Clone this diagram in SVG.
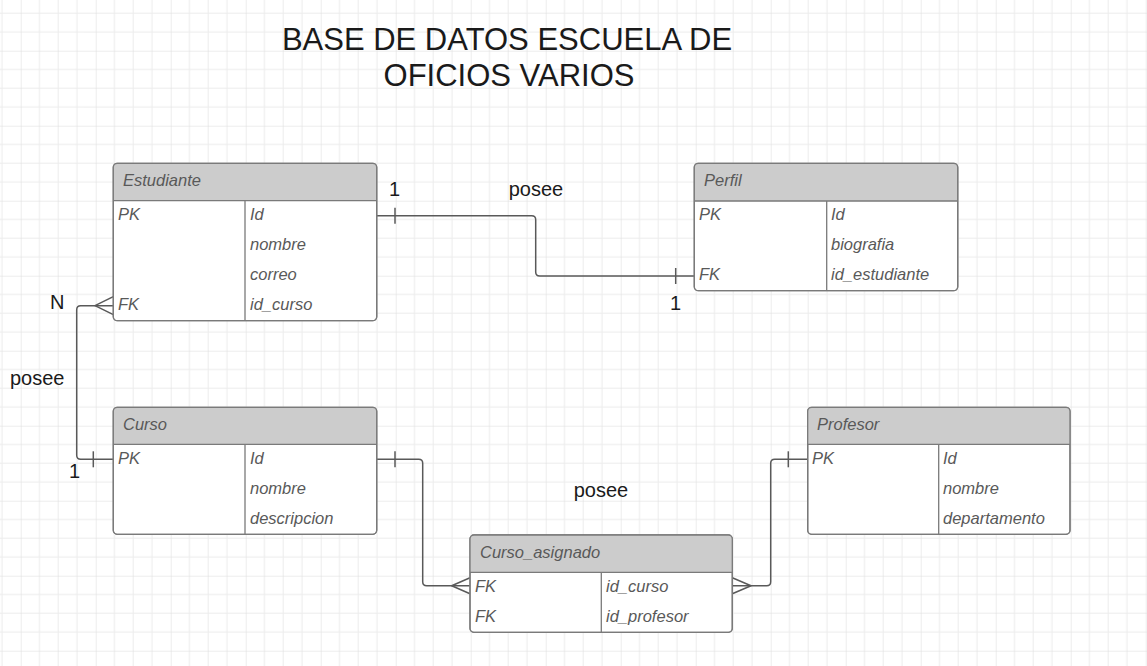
<svg xmlns="http://www.w3.org/2000/svg" width="1147" height="666" viewBox="0 0 1147 666">
<style>
.tbl{fill:#ffffff;stroke:#7a7a7a;stroke-width:1.3}
.hdr{fill:#cccccc;stroke:none}
.sep{stroke:#7a7a7a;stroke-width:1.3;fill:none}
.t{font-family:"Liberation Sans",Arial,sans-serif;font-style:italic;font-size:16.5px;fill:#595959}
.lbl{font-family:"Liberation Sans",Arial,sans-serif;font-size:20px;fill:#1a1a1a}
.title{font-family:"Liberation Sans",Arial,sans-serif;font-size:31px;fill:#1a1a1a;text-anchor:middle}
.con{fill:none;stroke:#595959;stroke-width:1.5;stroke-linejoin:round}
</style>
<defs>
<pattern id="grid" patternUnits="userSpaceOnUse" x="20.7" y="50.7" width="75" height="75">
<rect x="0" y="0" width="75" height="75" fill="#ffffff"/>
<rect x="18.25" y="0" width="1" height="75" fill="#ececec"/>
<rect x="37" y="0" width="1" height="75" fill="#ececec"/>
<rect x="55.75" y="0" width="1" height="75" fill="#ececec"/>
<rect x="0" y="18.25" width="75" height="1" fill="#ececec"/>
<rect x="0" y="37" width="75" height="1" fill="#ececec"/>
<rect x="0" y="55.75" width="75" height="1" fill="#ececec"/>
<rect x="-0.5" y="0" width="1" height="75" fill="#dcdcdc"/>
<rect x="0" y="-0.5" width="75" height="1" fill="#dcdcdc"/>
</pattern>
</defs>
<rect x="0" y="0" width="1147" height="666" fill="url(#grid)"/>

<g id="title">
<text class="title" x="507" y="50">BASE DE DATOS ESCUELA DE</text>
<text class="title" x="509" y="86">OFICIOS VARIOS</text>
</g>

<g id="connectors">
<path class="con" d="M376.7,215.7 H531.7 Q535.7,215.7 535.7,219.7 V272 Q535.7,276 539.7,276 H694.3"/>
<path class="con" d="M395,207.7 V223.7"/>
<path class="con" d="M675.7,268 V284"/>
<path class="con" d="M113.3,305.7 H80.7 Q76.7,305.7 76.7,309.7 V455.3 Q76.7,459.3 80.7,459.3 H113.3"/>
<path class="con" d="M113.3,296.7 L95,305.7 L113.3,314.7"/>
<path class="con" d="M93.3,451.3 V467.3"/>
<path class="con" d="M376.7,459.3 H418.7 Q422.7,459.3 422.7,463.3 V581.7 Q422.7,585.7 426.7,585.7 H470"/>
<path class="con" d="M395,451.3 V467.3"/>
<path class="con" d="M470,577.7 L451.7,585.7 L470,593.7"/>
<path class="con" d="M807.7,459.3 H774.7 Q770.7,459.3 770.7,463.3 V581.7 Q770.7,585.7 766.7,585.7 H732.3"/>
<path class="con" d="M788.3,451.3 V467.3"/>
<path class="con" d="M732.3,577.7 L751,585.7 L732.3,593.7"/>
</g>

<g id="labels">
<text class="lbl" x="389" y="196">1</text>
<text class="lbl" x="536" y="196" text-anchor="middle">posee</text>
<text class="lbl" x="670" y="310">1</text>
<text class="lbl" x="50" y="309">N</text>
<text class="lbl" x="10" y="385">posee</text>
<text class="lbl" x="69" y="478">1</text>
<text class="lbl" x="601" y="497" text-anchor="middle">posee</text>
</g>

<g id="estudiante">
<rect class="tbl" x="113.3" y="163.3" width="263.4" height="157.4" rx="4"/>
<path class="hdr" d="M117.3,163.3 H372.7 Q376.7,163.3 376.7,167.3 V200.7 H113.3 V167.3 Q113.3,163.3 117.3,163.3 Z"/>
<rect x="113.3" y="163.3" width="263.4" height="157.4" rx="4" fill="none" stroke="#7a7a7a" stroke-width="1.3"/>
<path class="sep" d="M113.3,200.7 H376.7 M245,200.7 V320.7"/>
<text class="t" x="123" y="186">Estudiante</text>
<text class="t" x="118" y="219.5">PK</text>
<text class="t" x="250" y="219.5">Id</text>
<text class="t" x="250" y="249.5">nombre</text>
<text class="t" x="250" y="279.5">correo</text>
<text class="t" x="118" y="309.5">FK</text>
<text class="t" x="250" y="309.5">id_curso</text>
</g>

<g id="perfil">
<rect class="tbl" x="694.3" y="163.3" width="263.4" height="127.4" rx="4"/>
<path class="hdr" d="M698.3,163.3 H953.7 Q957.7,163.3 957.7,167.3 V201 H694.3 V167.3 Q694.3,163.3 698.3,163.3 Z"/>
<rect x="694.3" y="163.3" width="263.4" height="127.4" rx="4" fill="none" stroke="#7a7a7a" stroke-width="1.3"/>
<path class="sep" d="M694.3,201 H957.7 M826.7,201 V290.7"/>
<text class="t" x="704" y="186">Perfil</text>
<text class="t" x="699" y="219.5">PK</text>
<text class="t" x="831" y="219.5">Id</text>
<text class="t" x="831" y="249.5">biografia</text>
<text class="t" x="699" y="279.5">FK</text>
<text class="t" x="831" y="279.5">id_estudiante</text>
</g>

<g id="curso">
<rect class="tbl" x="113.3" y="407.3" width="263.4" height="127" rx="4"/>
<path class="hdr" d="M117.3,407.3 H372.7 Q376.7,407.3 376.7,411.3 V444.3 H113.3 V411.3 Q113.3,407.3 117.3,407.3 Z"/>
<rect x="113.3" y="407.3" width="263.4" height="127" rx="4" fill="none" stroke="#7a7a7a" stroke-width="1.3"/>
<path class="sep" d="M113.3,444.3 H376.7 M245,444.3 V534.3"/>
<text class="t" x="123" y="430">Curso</text>
<text class="t" x="118" y="463.5">PK</text>
<text class="t" x="250" y="463.5">Id</text>
<text class="t" x="250" y="493.5">nombre</text>
<text class="t" x="250" y="523.5">descripcion</text>
</g>

<g id="profesor">
<rect class="tbl" x="807.7" y="407.3" width="262.3" height="127" rx="4"/>
<path class="hdr" d="M811.7,407.3 H1066 Q1070,407.3 1070,411.3 V444.3 H807.7 V411.3 Q807.7,407.3 811.7,407.3 Z"/>
<rect x="807.7" y="407.3" width="262.3" height="127" rx="4" fill="none" stroke="#7a7a7a" stroke-width="1.3"/>
<path class="sep" d="M807.7,444.3 H1070 M938.7,444.3 V534.3"/>
<text class="t" x="817" y="430">Profesor</text>
<text class="t" x="812" y="463.5">PK</text>
<text class="t" x="943" y="463.5">Id</text>
<text class="t" x="943" y="493.5">nombre</text>
<text class="t" x="943" y="523.5">departamento</text>
</g>

<g id="curso_asignado">
<rect class="tbl" x="470" y="535" width="262.3" height="97.3" rx="4"/>
<path class="hdr" d="M474,535 H728.3 Q732.3,535 732.3,539 V572.3 H470 V539 Q470,535 474,535 Z"/>
<rect x="470" y="535" width="262.3" height="97.3" rx="4" fill="none" stroke="#7a7a7a" stroke-width="1.3"/>
<path class="sep" d="M470,572.3 H732.3 M601.3,572.3 V632.3"/>
<text class="t" x="480" y="558">Curso_asignado</text>
<text class="t" x="475" y="591.5">FK</text>
<text class="t" x="606" y="591.5">id_curso</text>
<text class="t" x="475" y="621.5">FK</text>
<text class="t" x="606" y="621.5">id_profesor</text>
</g>
</svg>
